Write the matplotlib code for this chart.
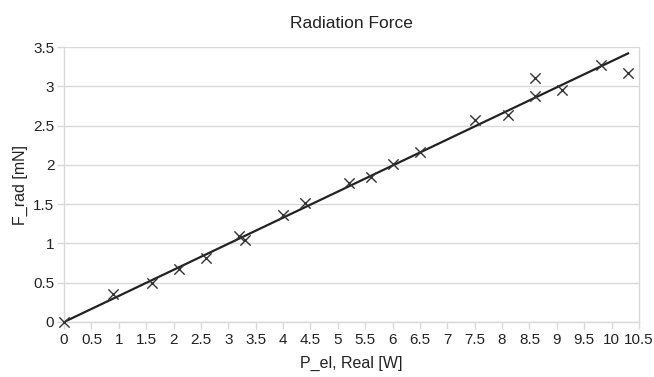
import numpy as np
import matplotlib.pyplot as plt

plt.rcParams['font.family'] = ['Liberation Sans', 'DejaVu Sans']

p_el = [0, 0.9, 1.6, 2.1, 2.6, 3.2, 3.3, 4.0, 4.4, 5.2, 5.6, 6.0, 6.5,
        7.5, 8.1, 8.6, 8.6, 9.1, 9.8, 10.3]
f_rad = [0, 0.36, 0.50, 0.67, 0.82, 1.10, 1.04, 1.36, 1.51, 1.77, 1.85,
         2.01, 2.17, 2.57, 2.64, 3.11, 2.88, 2.95, 3.27, 3.17]

x = np.array(p_el)
y = np.array(f_rad)
# linear trendline through the origin
slope = np.sum(x * y) / np.sum(x * x)
xs = np.array([0, x.max()])

fig = plt.figure(figsize=(6.54, 3.77), dpi=100)
ax = fig.add_axes([0.098, 0.146, 0.879, 0.729])

grid_col = '#d9d9d9'
ax.set_axisbelow(True)
ax.yaxis.grid(True, color=grid_col, linewidth=1)

ax.plot(xs, slope * xs, color='#222222', linewidth=1.6)
ax.scatter(x, y, marker='x', s=55, color='#333333', linewidths=1.0,
           zorder=3, clip_on=False)

ax.set_xlim(0, 10.5)
ax.set_ylim(0, 3.5)
ax.set_xticks(np.arange(0, 10.51, 0.5))
ax.set_yticks(np.arange(0, 3.51, 0.5))
ax.set_xticklabels(['%g' % v for v in np.arange(0, 10.51, 0.5)])
ax.set_yticklabels(['%g' % v for v in np.arange(0, 3.51, 0.5)])

for side in ['left', 'right', 'bottom']:
    ax.spines[side].set_color(grid_col)
    ax.spines[side].set_linewidth(1)
ax.spines['top'].set_visible(False)
ax.tick_params(axis='both', colors=grid_col, labelcolor='#222222',
               labelsize=11, length=5, width=1)
ax.tick_params(axis='x', pad=3)
ax.tick_params(axis='y', pad=2)

ax.set_title('Radiation Force', fontsize=12.5, color='#222222', pad=14)
ax.set_xlabel('P_el, Real [W]', fontsize=11.5, color='#222222', labelpad=6)
ax.set_ylabel('F_rad [mN]', fontsize=11.5, color='#222222', labelpad=4)

fig.savefig('out.png', dpi=100)
